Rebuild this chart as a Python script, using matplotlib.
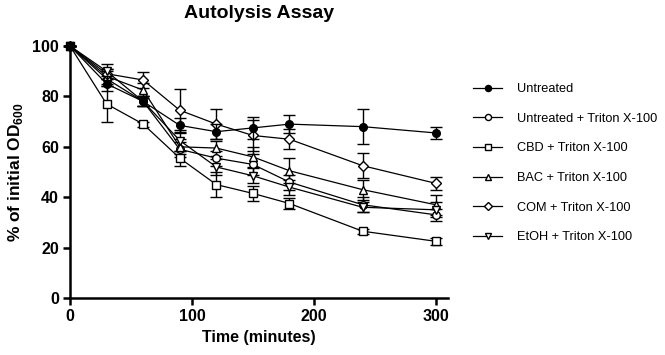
import numpy as np
import matplotlib
matplotlib.use('Agg')
import matplotlib.pyplot as plt

plt.rcParams['font.family'] = ['Liberation Sans', 'DejaVu Sans']
plt.rcParams['mathtext.fontset'] = 'custom'
plt.rcParams['mathtext.rm'] = 'Liberation Sans'
plt.rcParams['mathtext.bf'] = 'Liberation Sans:bold'

# Data
minutes = [0, 30, 60, 90, 120, 150, 180, 240, 300]

untreated = [100, 85, 78, 68.5, 66, 67.5, 69, 68, 65.5]
untreated_sd = [0, 3, 2, 3, 3, 4.5, 3.5, 7, 2.5]
untreated_tx = [100, 87, 78, 59, 55.5, 53, 46, 37, 33]
untreated_tx_sd = [0, 3, 2, 3, 3, 4, 3, 3, 2.5]
cbd_tx = [100, 77, 69, 55.5, 45, 41.5, 37.5, 26.5, 22.5]
cbd_tx_sd = [0, 7, 1, 3, 5, 3, 2, 1, 1.5]
bac_tx = [100, 88, 82.5, 60, 59.5, 56, 50.5, 43, 37]
bac_tx_sd = [0, 3, 3, 3, 3, 4, 5, 4, 4]
com_tx = [100, 89, 86.5, 74.5, 69, 64.5, 63, 52.5, 45.5]
com_tx_sd = [0, 2, 3, 8.5, 6, 6, 4, 5, 2.5]
etoh_tx = [100, 90, 78, 62.5, 52, 48.5, 44, 36, 35]
etoh_tx_sd = [0, 3, 2, 4, 3, 3, 3, 2, 3]

labels = ['Untreated', 'Untreated + Triton X-100', 'CBD + Triton X-100',
          'BAC + Triton X-100', 'COM + Triton X-100', 'EtOH + Triton X-100']
means = [untreated, untreated_tx, cbd_tx, bac_tx, com_tx, etoh_tx]
sds = [untreated_sd, untreated_tx_sd, cbd_tx_sd, bac_tx_sd, com_tx_sd, etoh_tx_sd]
markers = ['o', 'o', 's', '^', 'D', 'v']
msizes = [5.5, 5.5, 5.5, 5.5, 5, 5.5]
faces = ['k', 'white', 'white', 'white', 'white', 'white']


def main():
    fig = plt.figure(figsize=(6.65, 3.55), dpi=100)
    ax = fig.add_axes([70/665, 57/355, 378/665, 252/355])

    handles = []
    # draw open markers first, filled series on top
    order = [1, 2, 3, 4, 5, 0]
    for i in order:
        cont = ax.errorbar(minutes, means[i], yerr=sds[i], color='k', lw=0.9,
                           marker=markers[i], ms=msizes[i], mfc=faces[i], mec='k',
                           mew=1.0, capsize=4, capthick=1.0, elinewidth=1.0,
                           clip_on=False, zorder=3 + (i == 0))
        handles.append((i, cont[0]))
    handles = [h for _, h in sorted(handles, key=lambda p: p[0])]

    ax.set_xlim(0, 310)
    ax.set_ylim(0, 100)
    ax.set_xticks([0, 100, 200, 300])
    ax.set_yticks([0, 20, 40, 60, 80, 100])
    for s in ['top', 'right']:
        ax.spines[s].set_visible(False)
    for s in ['left', 'bottom']:
        ax.spines[s].set_linewidth(1.8)
    ax.tick_params(direction='out', length=5, width=1.8, labelsize=11.5, pad=3)
    for lab in ax.get_xticklabels() + ax.get_yticklabels():
        lab.set_fontweight('bold')

    ax.set_title('Autolysis Assay', fontsize=14, fontweight='bold', pad=20)
    ax.set_xlabel('Time (minutes)', fontsize=11.5, fontweight='bold', labelpad=4)
    ax.set_ylabel(r'% of initial OD$_\mathbf{600}$', fontsize=12.5,
                  fontweight='bold', labelpad=5)

    fig.legend(handles, labels, loc='upper left', bbox_to_anchor=(468/665, 1 - 78/355),
               frameon=False, fontsize=9.2, handlelength=2.3, handletextpad=1.1,
               labelspacing=1.38, borderaxespad=0, markerscale=0.8)

    fig.savefig('out.png', dpi=100)


if __name__ == '__main__':
    main()
